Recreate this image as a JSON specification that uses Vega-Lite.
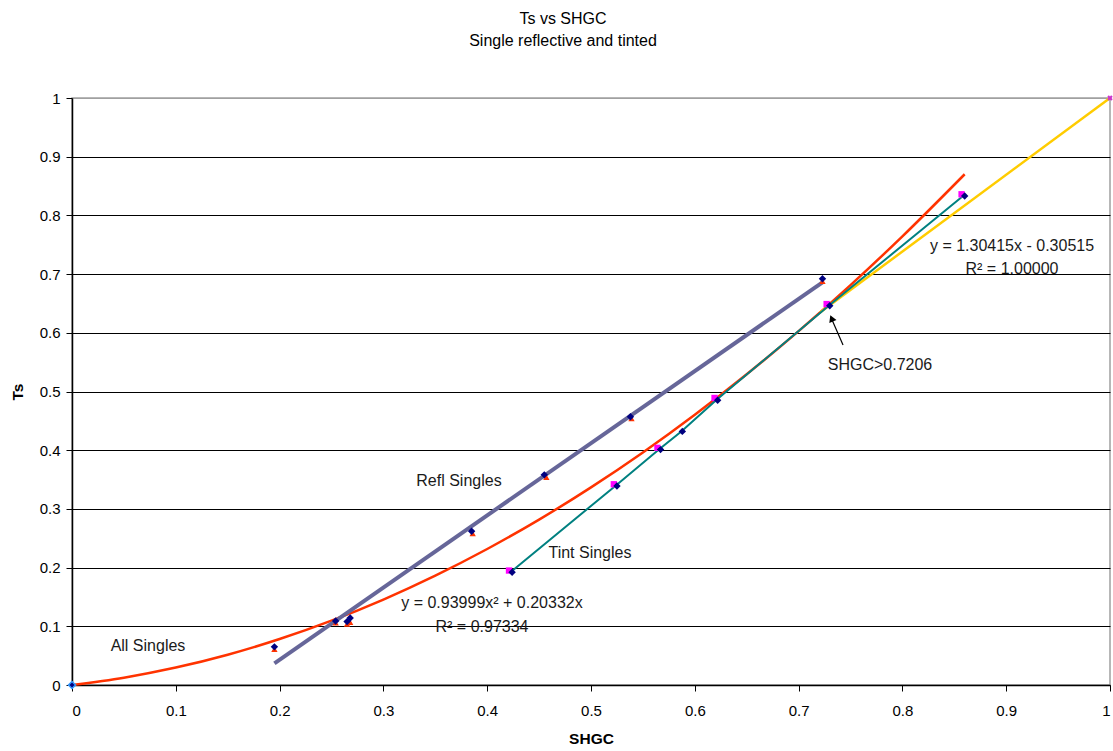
{
  "$schema": "https://vega.github.io/schema/vega-lite/v6.json",
  "width": 1038,
  "height": 587,
  "autosize": {"type": "none"},
  "padding": {"left": 72, "top": 98, "right": 3, "bottom": 66},
  "background": "white",
  "config": {
    "view": {"stroke": "#a0a0a0", "strokeWidth": 1.5},
    "font": "Liberation Sans",
    "text": {"font": "Liberation Sans"}
  },
  "title": {
    "text": ["Ts vs SHGC", "Single reflective and tinted"],
    "fontSize": 16,
    "fontWeight": "normal",
    "font": "Liberation Sans",
    "color": "black",
    "lineHeight": 22,
    "offset": 42,
    "dx": -28,
    "anchor": "middle"
  },
  "datasets": {
    "curve": [
      {"x": 0, "y": 0}, {"x": 0.05, "y": 0.0125}, {"x": 0.1, "y": 0.0297}, {"x": 0.15, "y": 0.0516},
      {"x": 0.2, "y": 0.0783}, {"x": 0.25, "y": 0.1096}, {"x": 0.3, "y": 0.1456}, {"x": 0.35, "y": 0.1863},
      {"x": 0.4, "y": 0.2317}, {"x": 0.45, "y": 0.2818}, {"x": 0.5, "y": 0.3367}, {"x": 0.55, "y": 0.3962},
      {"x": 0.6, "y": 0.4604}, {"x": 0.65, "y": 0.5293}, {"x": 0.7, "y": 0.6029}, {"x": 0.75, "y": 0.6812},
      {"x": 0.8, "y": 0.7643}, {"x": 0.86, "y": 0.8701}
    ],
    "refl": [{"x": 0.195, "y": 0.037}, {"x": 0.723, "y": 0.686}],
    "tint": [
      {"x": 0.423, "y": 0.193}, {"x": 0.524, "y": 0.34}, {"x": 0.566, "y": 0.402}, {"x": 0.587, "y": 0.432},
      {"x": 0.621, "y": 0.486}, {"x": 0.729, "y": 0.646}, {"x": 0.859, "y": 0.834}
    ],
    "yellow": [{"x": 0.7206, "y": 0.6346}, {"x": 1, "y": 1}],
    "tri": [
      {"x": 0.195, "y": 0.061}, {"x": 0.254, "y": 0.106}, {"x": 0.265, "y": 0.104}, {"x": 0.268, "y": 0.107},
      {"x": 0.386, "y": 0.258}, {"x": 0.457, "y": 0.354}, {"x": 0.539, "y": 0.454}, {"x": 0.723, "y": 0.688}
    ],
    "sq": [
      {"x": 0.421, "y": 0.195}, {"x": 0.522, "y": 0.342}, {"x": 0.564, "y": 0.404}, {"x": 0.619, "y": 0.489},
      {"x": 0.727, "y": 0.649}, {"x": 0.857, "y": 0.836}
    ],
    "dia": [
      {"x": 0.195, "y": 0.065}, {"x": 0.254, "y": 0.109}, {"x": 0.265, "y": 0.108}, {"x": 0.268, "y": 0.114},
      {"x": 0.385, "y": 0.262}, {"x": 0.455, "y": 0.358}, {"x": 0.538, "y": 0.457}, {"x": 0.723, "y": 0.692},
      {"x": 0.424, "y": 0.192}, {"x": 0.525, "y": 0.339}, {"x": 0.567, "y": 0.401}, {"x": 0.588, "y": 0.432},
      {"x": 0.622, "y": 0.485}, {"x": 0.73, "y": 0.646}, {"x": 0.86, "y": 0.833}
    ],
    "origin": [{"x": 0, "y": 0}],
    "corner": [{"x": 1, "y": 1}],
    "notes": [
      {"x": 0.0732, "y": 0.0664, "label": "All Singles"},
      {"x": 0.3728, "y": 0.3475, "label": "Refl Singles"},
      {"x": 0.499, "y": 0.2249, "label": "Tint Singles"},
      {"x": 0.4046, "y": 0.1397, "label": "y = 0.93999x² + 0.20332x"},
      {"x": 0.395, "y": 0.0988, "label": "R² = 0.97334"},
      {"x": 0.9056, "y": 0.7479, "label": "y = 1.30415x - 0.30515"},
      {"x": 0.9056, "y": 0.7087, "label": "R² = 1.00000"},
      {"x": 0.7784, "y": 0.5451, "label": "SHGC>0.7206"}
    ],
    "arrow": [{"x": 0.7428, "y": 0.5792, "x2": 0.7312, "y2": 0.626}],
    "head": [{"x": 0.7318, "y": 0.6245}]
  },
  "layer": [
    {
      "data": {"name": "curve"},
      "mark": {"type": "line", "color": "#ff3300", "strokeWidth": 2.5, "interpolate": "monotone"},
      "encoding": {
        "x": {
          "field": "x", "type": "quantitative",
          "scale": {"domain": [0, 1], "nice": false, "zero": false},
          "axis": {
            "title": "SHGC",
            "values": [0, 0.1, 0.2, 0.3, 0.4, 0.5, 0.6, 0.7, 0.8, 0.9, 1],
            "format": "~g",
            "grid": false,
            "domainColor": "black", "domainWidth": 1.5,
            "tickColor": "black", "tickSize": 6, "tickWidth": 1,
            "labelColor": "black", "labelFontSize": 15, "labelFont": "Liberation Sans", "labelPadding": 12,
            "titleColor": "black", "titleFontSize": 15.5, "titleFont": "Liberation Sans", "titleFontWeight": "bold", "titlePadding": 13
          }
        },
        "y": {
          "field": "y", "type": "quantitative",
          "scale": {"domain": [0, 1], "nice": false, "zero": false},
          "axis": {
            "title": "Ts",
            "values": [0, 0.1, 0.2, 0.3, 0.4, 0.5, 0.6, 0.7, 0.8, 0.9, 1],
            "format": "~g",
            "grid": true,
            "gridColor": {"condition": {"test": "datum.value === 1", "value": "#a0a0a0"}, "value": "black"},
            "gridWidth": 1.2, "gridOpacity": 1,
            "domainColor": "black", "domainWidth": 1.5,
            "tickColor": "black", "tickSize": 6, "tickWidth": 1,
            "labelColor": "black", "labelFontSize": 15, "labelFont": "Liberation Sans", "labelPadding": 6,
            "titleColor": "black", "titleFontSize": 15.5, "titleFont": "Liberation Sans", "titleFontWeight": "bold", "titlePadding": 14
          }
        }
      }
    },
    {
      "data": {"name": "refl"},
      "mark": {"type": "line", "color": "#666699", "strokeWidth": 4},
      "encoding": {"x": {"field": "x", "type": "quantitative"}, "y": {"field": "y", "type": "quantitative"}}
    },
    {
      "data": {"name": "yellow"},
      "mark": {"type": "line", "color": "#ffcc00", "strokeWidth": 2.5},
      "encoding": {"x": {"field": "x", "type": "quantitative"}, "y": {"field": "y", "type": "quantitative"}}
    },
    {
      "data": {"name": "tint"},
      "mark": {"type": "line", "color": "#008080", "strokeWidth": 2},
      "encoding": {"x": {"field": "x", "type": "quantitative"}, "y": {"field": "y", "type": "quantitative"}}
    },
    {
      "data": {"name": "tri"},
      "mark": {"type": "point", "shape": "triangle-up", "filled": true, "color": "#ff3300", "size": 40, "opacity": 1},
      "encoding": {"x": {"field": "x", "type": "quantitative"}, "y": {"field": "y", "type": "quantitative"}}
    },
    {
      "data": {"name": "sq"},
      "mark": {"type": "point", "shape": "square", "filled": true, "color": "#ff00ff", "size": 40, "opacity": 1},
      "encoding": {"x": {"field": "x", "type": "quantitative"}, "y": {"field": "y", "type": "quantitative"}}
    },
    {
      "data": {"name": "dia"},
      "mark": {"type": "point", "shape": "diamond", "filled": true, "color": "#000080", "size": 55, "opacity": 1},
      "encoding": {"x": {"field": "x", "type": "quantitative"}, "y": {"field": "y", "type": "quantitative"}}
    },
    {
      "data": {"name": "origin"},
      "mark": {"type": "point", "shape": "diamond", "filled": true, "fill": "#000080", "stroke": "#3399ff", "strokeWidth": 1.5, "size": 50, "opacity": 1},
      "encoding": {"x": {"field": "x", "type": "quantitative"}, "y": {"field": "y", "type": "quantitative"}}
    },
    {
      "data": {"name": "corner"},
      "mark": {"type": "point", "shape": "cross", "filled": true, "color": "#cc33cc", "size": 30, "angle": 45, "opacity": 1},
      "encoding": {"x": {"field": "x", "type": "quantitative"}, "y": {"field": "y", "type": "quantitative"}}
    },
    {
      "data": {"name": "arrow"},
      "mark": {"type": "rule", "color": "black", "strokeWidth": 1.2},
      "encoding": {
        "x": {"field": "x", "type": "quantitative"}, "y": {"field": "y", "type": "quantitative"},
        "x2": {"field": "x2"}, "y2": {"field": "y2"}
      }
    },
    {
      "data": {"name": "head"},
      "mark": {"type": "point", "shape": "triangle-up", "filled": true, "color": "black", "size": 60, "angle": -22.7, "opacity": 1},
      "encoding": {"x": {"field": "x", "type": "quantitative"}, "y": {"field": "y", "type": "quantitative"}}
    },
    {
      "data": {"name": "notes"},
      "mark": {"type": "text", "fontSize": 16, "color": "#1a1a1a", "align": "center", "baseline": "middle", "font": "Liberation Sans"},
      "encoding": {
        "x": {"field": "x", "type": "quantitative"}, "y": {"field": "y", "type": "quantitative"},
        "text": {"field": "label"}
      }
    }
  ]
}
